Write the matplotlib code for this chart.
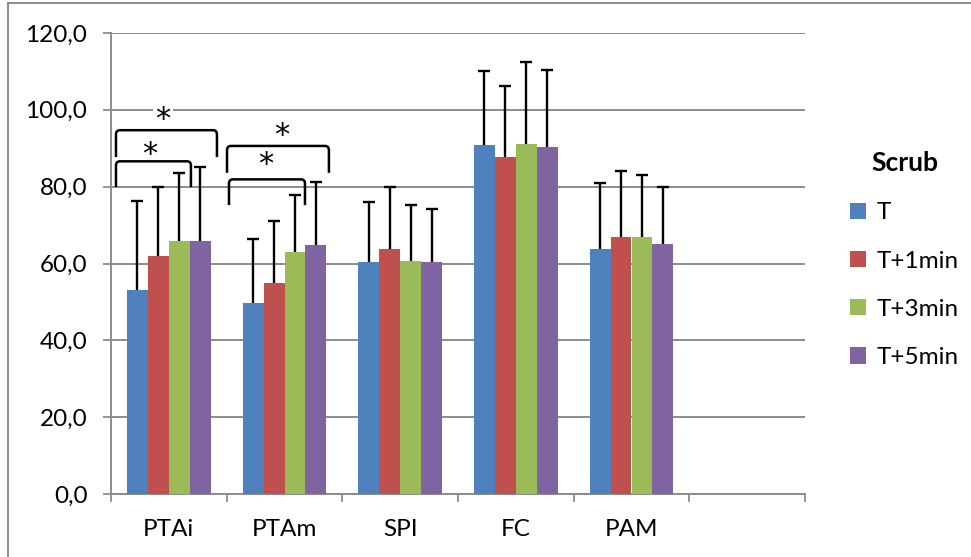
import matplotlib
matplotlib.use("Agg")
import matplotlib.pyplot as plt
import numpy as np
from matplotlib.path import Path
from matplotlib.patches import PathPatch, Patch
from matplotlib.ticker import FixedLocator, FuncFormatter

# ---- data ----
categories = ["PTAi", "PTAm", "SPI", "FC", "PAM", ""]
series = ["T", "T+1min", "T+3min", "T+5min"]
means_T = [53.1, 49.7, 60.5, 90.9, 63.9]
means_T1 = [61.9, 54.9, 63.9, 87.8, 66.9]
means_T3 = [65.9, 62.9, 60.7, 91.2, 66.9]
means_T5 = [65.9, 64.7, 60.4, 90.2, 65.0]
sd_T = [23.2, 16.8, 15.5, 19.3, 17.1]
sd_T1 = [17.9, 16.1, 16.1, 18.4, 17.2]
sd_T3 = [17.6, 15.0, 14.4, 21.2, 16.2]
sd_T5 = [19.3, 16.4, 13.7, 20.2, 15.0]
y_ticks = [0, 20, 40, 60, 80, 100, 120]
legend_title = "Scrub"

# ---- style ----
colors = ["#4F81BD", "#C0504D", "#9BBB59", "#8064A2"]
grid_col = "#8C8C8C"
plt.rcParams['font.family'] = ['Lato', 'DejaVu Sans']
fs = 17.5

fig = plt.figure(figsize=(9.71, 5.57), dpi=100)
ax = fig.add_axes([111/971, 63/557, 694/971, 461/557])

means = [means_T, means_T1, means_T3, means_T5]
sds = [sd_T, sd_T1, sd_T3, sd_T5]
n = len(means_T)
x = np.arange(n)
bw = 0.1815
for i in range(4):
    xpos = x + (i - 1.5) * bw
    m = np.array(means[i])
    top = m + np.array(sds[i])
    ax.bar(xpos, m, width=bw, color=colors[i], edgecolor='none', zorder=3, label=series[i])
    ax.vlines(xpos, m, top, colors='black', linewidth=1.7, zorder=4)
    ax.plot(xpos, top, linestyle='none', marker='_', markersize=9, markeredgewidth=1.7,
            color='black', zorder=4)

ax.set_xlim(-0.5, len(categories) - 0.5)
ax.set_ylim(0, 120)
ax.yaxis.set_major_locator(FixedLocator(y_ticks))
ax.yaxis.set_major_formatter(FuncFormatter(lambda v, p: f"{v:.1f}".replace('.', ',')))
ax.set_xticks(np.arange(len(categories)))
ax.set_xticklabels(categories)
ax.set_xticks(np.arange(len(categories) + 1) - 0.5, minor=True)
ax.tick_params(axis='x', which='major', length=0, labelsize=fs, pad=18)
ax.tick_params(axis='x', which='minor', length=6, width=1.3, color=grid_col, direction='out')
ax.tick_params(axis='y', length=6, width=1.3, color=grid_col, labelsize=fs, pad=11)
ax.grid(axis='y', color=grid_col, linewidth=1.4, zorder=0)
ax.set_axisbelow(True)
for s in ['top', 'right']:
    ax.spines[s].set_visible(False)
for s in ['left', 'bottom']:
    ax.spines[s].set_color(grid_col)
    ax.spines[s].set_linewidth(1.4)
    ax.spines[s].set_zorder(2)

# ---- significance brackets ----
brackets = [
    # x0, x1, y_top, y_leg, star_x, star_y
    (-0.457, 0.416, 94.7, 87.7, -0.051, 99.0),
    (-0.457, 0.191, 86.6, 79.9, -0.163, 89.8),
    (0.503, 1.384, 90.6, 83.6, 0.978, 94.7),
    (0.520, 1.177, 81.9, 75.2, 0.840, 87.1),
]
rx, ry = 0.035, 1.1
for x0, x1, yt, yl, sx, sy in brackets:
    verts = [(x0, yl), (x0, yt - ry), (x0, yt), (x0 + rx, yt),
             (x1 - rx, yt), (x1, yt), (x1, yt - ry), (x1, yl)]
    codes = [Path.MOVETO, Path.LINETO, Path.CURVE3, Path.CURVE3,
             Path.LINETO, Path.CURVE3, Path.CURVE3, Path.LINETO]
    ax.add_patch(PathPatch(Path(verts, codes), fill=False, edgecolor='black',
                           linewidth=1.8, zorder=5, clip_on=False))
    ax.text(sx, sy - 3.6, "*", ha='center', va='baseline', fontsize=22, zorder=4.5,
            family='DejaVu Sans',
            bbox=dict(facecolor='white', edgecolor='none', pad=1.5))

# ---- legend ----
handles = [Patch(facecolor=c, edgecolor='none') for c in colors]
leg = fig.legend(handles, series, title=legend_title, loc='upper left',
                 bbox_to_anchor=(838/971, 1 - 139/557), frameon=False, fontsize=fs,
                 handlelength=0.65, handleheight=0.65, handletextpad=0.45,
                 labelspacing=1.12, borderpad=0, alignment='center')
leg.get_title().set_fontsize(fs + 1.5)
leg.get_title().set_fontweight('bold')

# ---- outer border (left/top) ----
fig.add_artist(plt.Line2D([8/971, 8/971], [0, 1 - 3/557], color=grid_col, linewidth=1.4))
fig.add_artist(plt.Line2D([8/971, 1], [1 - 3/557, 1 - 3/557], color=grid_col, linewidth=1.4))

fig.savefig("out.png", dpi=100)
